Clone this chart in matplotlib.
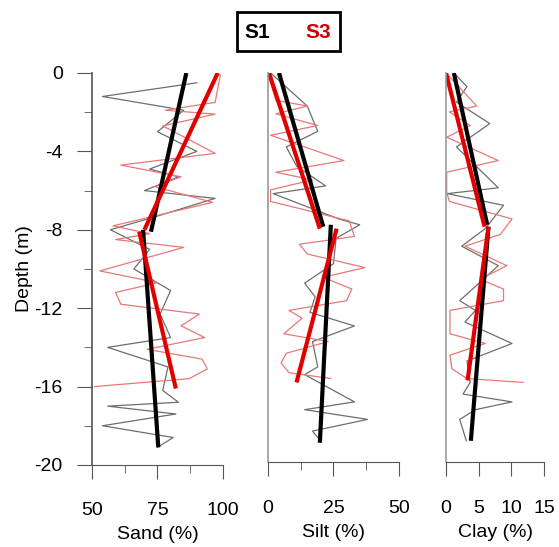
import matplotlib.pyplot as plt
from matplotlib.patches import Rectangle
from matplotlib.ticker import MultipleLocator

plt.rcParams["font.family"] = ["Liberation Sans", "DejaVu Sans"]
plt.rcParams["axes.unicode_minus"] = False

# Sand (%) - S1 and S3 profiles, depth in m
sand_s1_depth = [-0.5, -1.2, -1.9, -3.0, -4.0, -4.9, -5.3, -6.0, -6.4, -7.3, -8.0, -9.0,
                 -10.0, -11.1, -12.3, -13.5, -14.0, -15.0, -16.2, -16.8, -17.0, -17.4, -18.0, -18.6, -19.1]
sand_s1 = [90, 54, 85, 75, 90, 72, 83, 70, 97, 75, 57, 72,
           66, 80, 76, 80, 56, 79, 77, 83, 56, 82, 54, 81, 75]
sand_s3_depth = [0, -0.1, -1.5, -1.9, -2.1, -2.7, -4.1, -4.7, -5.3, -5.8, -6.6, -7.8, -8.2, -8.5, -8.9,
                 -10.1, -10.7, -11.2, -11.8, -12.3, -12.9, -13.5, -14.1, -14.6, -15.1, -15.6, -16.0]
sand_s3 = [97, 99, 97, 78, 97, 77, 97, 61, 84, 74, 96, 58, 72, 59, 85,
           53, 75, 59, 61, 91, 84, 93, 71, 92, 94, 87, 51]

# Silt (%)
silt_s1_depth = [0, -1.7, -3.0, -3.8, -4.8, -5.8, -6.2, -7.5, -7.8, -8.5, -9.8,
                 -10.8, -11.5, -12.3, -13.0, -13.8, -15.1, -15.5, -16.9, -17.3, -17.8, -18.4, -18.9]
silt_s1 = [1, 15, 19, 7, 11, 22, 2, 27, 35, 26, 25,
           14, 18, 16, 33, 17, 19, 14, 33, 14, 38, 17, 20]
silt_s3_depth = [0, -1.4, -1.7, -2.1, -2.7, -3.2, -4.5, -5.1, -5.5, -6.0, -6.6, -7.6, -8.4, -8.8, -9.3,
                 -10.0, -10.5, -11.1, -11.7, -12.2, -12.6, -13.4, -13.8, -14.4, -14.9, -15.4, -15.7]
silt_s3 = [0, 3, 15, 3, 19, 1, 29, 3, 17, 1, 1, 31, 33, 12, 15,
           37, 21, 32, 30, 8, 13, 6, 23, 7, 5, 8, 24]

# Clay (%)
clay_s1_depth = [0, -0.7, -1.5, -2.6, -3.8, -5.9, -6.2, -6.8, -8.0, -8.9, -9.9,
                 -11.7, -12.2, -12.8, -13.9, -14.8, -15.9, -16.5, -16.9, -17.3, -17.8, -18.9]
clay_s1 = [1.2, 3.2, 1.6, 6.7, 1.6, 8.0, 0.2, 8.8, 6.0, 2.4, 8.0,
           2.1, 4.5, 2.9, 10.1, 3.2, 3.7, 2.6, 10.1, 4.5, 2.1, 3.1]
clay_s3_depth = [0, -1.7, -2.0, -2.7, -3.3, -4.5, -5.1, -6.1, -6.6, -7.5, -8.3, -8.9,
                 -9.9, -10.6, -11.1, -11.7, -12.2, -13.4, -13.9, -14.5, -15.2, -15.7, -15.9]
clay_s3 = [0, 4.7, 0.5, 3.7, 0.1, 8.0, 0.1, 0.1, 0.5, 10.1, 8.3, 2.9,
           9.3, 5.2, 8.8, 8.8, 0.6, 0.6, 6.0, 0.6, 0.9, 3.2, 11.8]

# Piecewise trend lines: (depth_top, depth_bottom, value_top, value_bottom)
sand_trend_s1 = [(0, -8.1, 86, 72.5), (-8.0, -19.1, 69.5, 75.3)]
sand_trend_s3 = [(0, -8.0, 98, 70), (-8.1, -16.1, 68, 82)]
silt_trend_s1 = [(0, -7.9, 4.2, 21.1), (-7.8, -19.0, 24, 19.8)]
silt_trend_s3 = [(0, -8.0, 0.4, 19.8), (-8.0, -15.9, 26.2, 10.9)]
clay_trend_s1 = [(0, -7.8, 1.2, 6.3), (-7.9, -18.9, 6.5, 3.8)]
clay_trend_s3 = [(0, -7.9, 0, 5.9), (-7.9, -15.8, 6.5, 3.3)]

GREY = "#6e6e6e"
LIGHT_RED = "#e87878"
RED = "#e00000"

fig = plt.figure(figsize=(5.59, 5.47), dpi=100)


def panel(rect, xlim, xticks, minor, label, s1, s3, t1, t3, first=False):
    ax = fig.add_axes(rect)
    ax.plot(s1[1], s1[0], color=GREY, lw=0.9)
    ax.plot(s3[1], s3[0], color=LIGHT_RED, lw=0.9)
    for d0, d1, v0, v1 in t1:
        ax.plot([v0, v1], [d0, d1], color="black", lw=3, solid_capstyle="butt")
    for d0, d1, v0, v1 in t3:
        ax.plot([v0, v1], [d0, d1], color=RED, lw=3, solid_capstyle="butt")

    ax.set_xlim(*xlim)
    ax.set_ylim(-20, 0)
    ax.spines[["top", "right"]].set_visible(False)
    ax.spines["bottom"].set_color("#555555")
    ax.spines["left"].set_color("#555555" if first else "#999999")
    ax.spines["left"].set_linewidth(1.2)

    ax.set_xticks(xticks)
    ax.set_xticklabels([str(t) for t in xticks])
    if minor:
        ax.xaxis.set_minor_locator(MultipleLocator(minor))
    ax.tick_params(axis="x", which="major", length=10, color="#555555", pad=17, labelsize=14)
    ax.tick_params(axis="x", which="minor", length=6, color="#555555")
    ax.set_xlabel(label, fontsize=14, labelpad=5)

    if first:
        ax.set_yticks(range(-20, 1, 4))
        ax.yaxis.set_minor_locator(MultipleLocator(2))
        ax.tick_params(axis="y", which="major", length=11, color="#555555", pad=10, labelsize=14)
        ax.tick_params(axis="y", which="minor", length=6, color="#555555")
        ax.set_ylabel("Depth (m)", fontsize=14, labelpad=1)
    else:
        ax.tick_params(axis="y", left=False, labelleft=False)
    return ax


panel([0.1646, 0.150, 0.2343, 0.7166], (50, 100), [50, 75, 100], 12.5, "Sand (%)",
      (sand_s1_depth, sand_s1), (sand_s3_depth, sand_s3), sand_trend_s1, sand_trend_s3, first=True)
panel([0.4794, 0.155, 0.2343, 0.7116], (0, 50), [0, 25, 50], 12.5, "Silt (%)",
      (silt_s1_depth, silt_s1), (silt_s3_depth, silt_s3), silt_trend_s1, silt_trend_s3)
panel([0.7979, 0.155, 0.1753, 0.7116], (0, 15), [0, 5, 10, 15], None, "Clay (%)",
      (clay_s1_depth, clay_s1), (clay_s3_depth, clay_s3), clay_trend_s1, clay_trend_s3)

# Legend box at the top
fig.patches.append(Rectangle((0.424, 0.907), 0.184, 0.071, transform=fig.transFigure,
                             facecolor="white", edgecolor="black", lw=2))
fig.text(0.461, 0.941, "S1", color="black", fontsize=15, fontweight="bold",
         ha="center", va="center")
fig.text(0.569, 0.941, "S3", color="#d00000", fontsize=15, fontweight="bold",
         ha="center", va="center")

plt.savefig("out.png", dpi=100)
